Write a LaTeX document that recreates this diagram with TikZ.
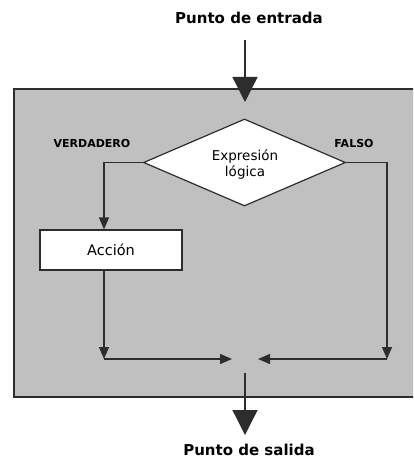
\documentclass[tikz,border=0pt]{standalone}
\usepackage{fontspec}
\setmainfont{DejaVu Sans}
\usetikzlibrary{arrows.meta,shapes.geometric}
\definecolor{panel}{RGB}{192,192,192}
\definecolor{ink}{RGB}{45,45,45}
\begin{document}
\begin{tikzpicture}[x=1pt,y=-1pt,
  flow/.style={draw=ink,line width=1.3pt},
  bigarrow/.style={flow,-{Triangle[width=25pt,length=25pt]}},
  smallarrow/.style={flow,-{Triangle[width=10pt,length=12pt]}},
  title/.style={font=\bfseries\fontsize{15}{17}\selectfont},
  tag/.style={font=\bfseries\fontsize{11}{13}\selectfont},
  shapebox/.style={draw=ink, fill=white, line width=1.2pt}]
\useasboundingbox (0,0) rectangle (413,462);
\clip (0,0) rectangle (413,462);
% shaded region of the structure
\fill[panel, draw=ink, line width=1.2pt] (14,89) rectangle (430,397);
% nodes
\node[title] (in) at (249,18) {Punto de entrada};
\node[title] (out) at (249,450) {Punto de salida};
\node[diamond, shapebox, minimum width=202pt, minimum height=87pt, inner sep=0pt]
  (dec) at (244.5,162.5) {};
\node[align=center, font=\fontsize{13.5}{16}\selectfont] (dect) at (245,165) {Expresión\\lógica};
\node[rectangle, shapebox, minimum width=142pt, minimum height=40pt,
      font=\fontsize{14.5}{16}\selectfont] (act) at (111,250) {Acción};
\node[tag] (vt) at (92,143) {VERDADERO};
\node[tag] (vf) at (354,143) {FALSO};
% junction points
\coordinate (enin) at (245,40);
\coordinate (enout) at (245,102);
\coordinate (lj) at (104,359);
\coordinate (rj) at (387,359);
\coordinate (ml) at (232,359);
\coordinate (mr) at (258,359);
\coordinate (exin) at (245,373);
\coordinate (exout) at (245,435);
% connectors
\draw[bigarrow] (enin) -- (enout);
\draw[smallarrow] (dec.west) -| (act.north -| lj);
\draw[smallarrow] (act.south -| lj) -- (lj);
\draw[smallarrow] (dec.east) -| (rj);
\draw[smallarrow] (lj) -- (ml);
\draw[smallarrow] (rj) -- (mr);
\draw[bigarrow] (exin) -- (exout);
\end{tikzpicture}
\end{document}
